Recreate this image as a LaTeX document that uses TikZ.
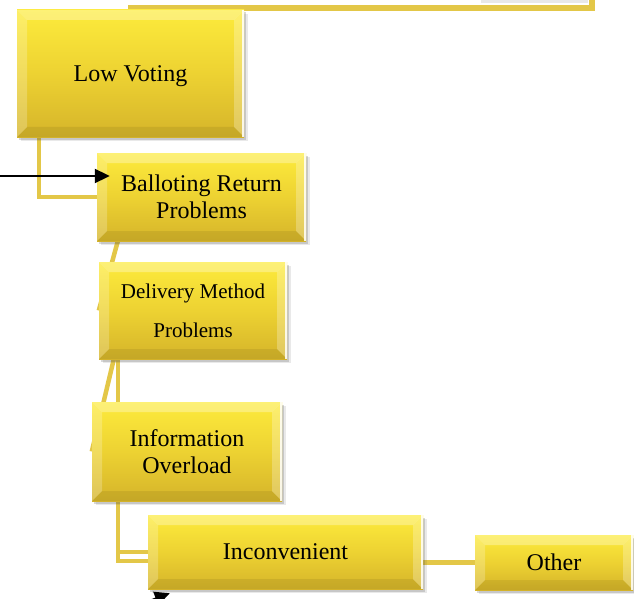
\documentclass[tikz,border=0pt]{standalone}
\usepackage{fontspec}
\setmainfont{Liberation Serif}
\usetikzlibrary{shadows,backgrounds,arrows.meta,calc}

\definecolor{goldtop}{HTML}{FDEB3C}
\definecolor{goldmid}{HTML}{EDD232}
\definecolor{goldbot}{HTML}{D5B42A}
\definecolor{linkgold}{HTML}{E3C748}

\def\bv{10pt}

\tikzset{
  bevelbox/.style={
    draw=none, inner sep=0pt, align=center,
    top color=goldtop, bottom color=goldbot, middle color=goldmid,
    drop shadow={shadow xshift=3.5pt, shadow yshift=-4pt, opacity=0.12, fill=black!70},
    drop shadow={shadow xshift=2pt, shadow yshift=-2.5pt, opacity=0.22, fill=black!70},
    font=\fontsize{24}{27}\selectfont,
    path picture={
      \path (path picture bounding box.north west) coordinate (bNW)
            (path picture bounding box.north east) coordinate (bNE)
            (path picture bounding box.south west) coordinate (bSW)
            (path picture bounding box.south east) coordinate (bSE);
      % bevel: lit top and left, shaded bottom, bright right rim
      \fill[white,opacity=0.30] (bNW) -- (bNE) -- ([shift={(-\bv,-\bv)}]bNE) -- ([shift={(\bv,-\bv)}]bNW) -- cycle;
      \fill[white,opacity=0.22] (bNW) -- ([shift={(\bv,-\bv)}]bNW) -- ([shift={(\bv,\bv)}]bSW) -- (bSW) -- cycle;
      \fill[black,opacity=0.07] (bSW) -- ([shift={(\bv,\bv)}]bSW) -- ([shift={(-\bv,\bv)}]bSE) -- (bSE) -- cycle;
      \fill[white,opacity=0.25] (bNE) -- (bSE) -- ([shift={(-\bv,\bv)}]bSE) -- ([shift={(-\bv,-\bv)}]bNE) -- cycle;
      \draw[white,line width=1.6pt,opacity=0.85] ([xshift=-1pt]bNE) -- ([xshift=-1pt]bSE);
    }
  },
  oneline/.style={text depth=0pt},
  conn/.style={draw=linkgold, line width=4.5pt},
  blackarrow/.style={draw=black, line width=2pt, -{Triangle[length=15pt,width=14pt]}}
}

\begin{document}
\begin{tikzpicture}[x=1pt,y=-1pt]
\useasboundingbox (0,0) rectangle (634,599);

% faint shadow of a box beyond the top edge
\fill[black!9] (481,0) rectangle (588,3);

% boxes
\node[bevelbox, oneline, minimum width=227pt, minimum height=127pt] (low) at (130.5,73.5) {Low Voting};
\node[bevelbox, minimum width=209pt, minimum height=88pt] (ballot) at (201.5,197) {Balloting Return\\Problems};
\node[bevelbox, minimum width=188pt, minimum height=97pt, font=\fontsize{21}{39}\selectfont] (deliv) at (193,310.5) {Delivery Method\\Problems};
\node[bevelbox, minimum width=190pt, minimum height=99pt] (info) at (187,451.5) {Information\\Overload};
\node[bevelbox, oneline, minimum width=275pt, minimum height=74pt] (inconv) at (285.5,552) {Inconvenient};
\node[bevelbox, oneline, minimum width=158pt, minimum height=55pt] (other) at (554,562.5) {Other};

% connectors, behind the boxes
\coordinate (topbend) at (592,8);
\coordinate (topout) at (592,0);
\begin{scope}[on background layer]
  \draw[conn, line width=6pt] (low.north) |- (topbend) -- (topout);
  \draw[conn] ([xshift=22pt]low.south west) |- (ballot.west);
  \draw[conn] ([xshift=21pt]ballot.south west) -- (deliv.west);
  \draw[conn] ([xshift=15pt]deliv.south west) -- (info.west);
  \draw[conn] ([xshift=19pt]deliv.south west) -- ([xshift=26pt]info.north west);
  \draw[conn] ([xshift=26pt]info.south west) |- ([yshift=-9pt]inconv.west);
  \draw[conn] ([xshift=26pt]info.south west) |- (inconv.west);
  \draw[conn] (inconv.east |- other.west) -- (other.west);
\end{scope}

% black arrows entering from outside
\coordinate (arrin) at (0,176);
\draw[blackarrow] (arrin) -- ([shift={(13pt,21pt)}]ballot.west);
\coordinate (arrbot) at (136,606);
\draw[blackarrow] (arrbot) -- ([shift={(22pt,-4pt)}]inconv.south west);
\end{tikzpicture}
\end{document}
